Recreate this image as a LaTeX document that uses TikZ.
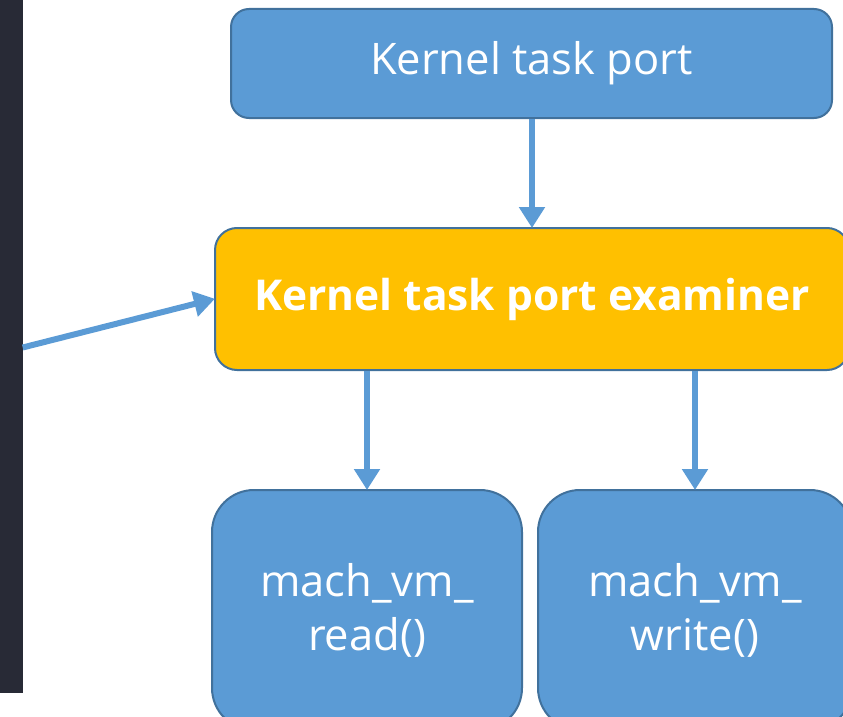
\documentclass[tikz,border=0pt]{standalone}
\usepackage{fontspec}
\setmainfont{Open Sans}
\usetikzlibrary{arrows.meta}
\definecolor{boxblue}{HTML}{5B9BD5}
\definecolor{boxedge}{HTML}{41719C}
\definecolor{boxgold}{HTML}{FFC000}
\definecolor{sidebar}{HTML}{282A36}
\tikzset{
  card/.style={draw=boxedge, line width=2pt, fill=boxblue, text=white,
    align=center, inner sep=0pt, font=\fontsize{43.5}{54}\selectfont},
  flow/.style={draw=boxblue, line width=6pt,
    -{Triangle[length=21pt,width=25pt]}, shorten >=-1pt}
}
\begin{document}
\begin{tikzpicture}[x=1pt,y=-1pt]
  \useasboundingbox (0,0) rectangle (843,717);
  \clip (0,0) rectangle (843,717);
  % dark side panel
  \fill[sidebar] (0,0) rectangle (22.7,693);
  % boxes
  \node[card, rounded corners=18pt, minimum width=601pt, minimum height=109pt]
    (kport) at (531.5,63.5) {Kernel task port};
  \node[card, fill=boxgold, rounded corners=22pt, minimum width=634pt,
    minimum height=142pt, font=\fontsize{42.5}{52}\selectfont\bfseries]
    (exam) at (532,299) {Kernel task port examiner};
  \node[card, rounded corners=42pt, minimum width=310pt, minimum height=240pt]
    (rd) at (367,610) {mach\_vm\_\\read()};
  \node[card, rounded corners=42pt, minimum width=314pt, minimum height=240pt]
    (wr) at (695,610) {mach\_vm\_\\write()};
  % connectors
  \coordinate (src) at (22.7,347.5);
  \draw[flow] (src) -- (exam.west);
  \draw[flow] (kport.south -| exam.north) -- (exam.north);
  \draw[flow] (exam.south -| rd.north) -- (rd.north);
  \draw[flow] (exam.south -| wr.north) -- (wr.north);
\end{tikzpicture}
\end{document}
